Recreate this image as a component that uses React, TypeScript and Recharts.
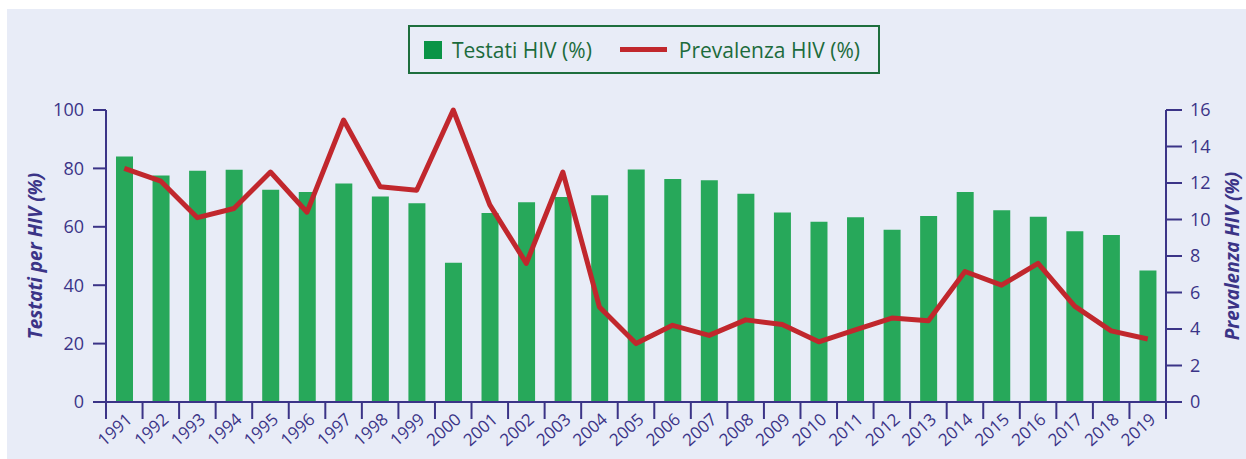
import { ComposedChart, Bar, Line, XAxis, YAxis, Legend } from 'recharts';

const years = [
  '1991', '1992', '1993', '1994', '1995', '1996', '1997', '1998', '1999', '2000',
  '2001', '2002', '2003', '2004', '2005', '2006', '2007', '2008', '2009', '2010',
  '2011', '2012', '2013', '2014', '2015', '2016', '2017', '2018', '2019',
];
const testati = [
  84.1, 77.6, 79.2, 79.5, 72.7, 71.9, 74.8, 70.4, 68.1, 47.7,
  64.7, 68.4, 70.2, 70.8, 79.6, 76.4, 75.9, 71.3, 64.9, 61.7,
  63.3, 59.0, 63.7, 71.9, 65.7, 63.4, 58.5, 57.2, 45.0,
];
const prevalenza = [
  12.8, 12.1, 10.1, 10.6, 12.6, 10.4, 15.45, 11.8, 11.6, 16.0,
  10.8, 7.6, 12.6, 5.2, 3.2, 4.2, 3.65, 4.5, 4.25, 3.3,
  3.95, 4.6, 4.45, 7.15, 6.4, 7.6, 5.25, 3.9, 3.45,
];
const leftTicks = [0, 20, 40, 60, 80, 100];
const rightTicks = [0, 2, 4, 6, 8, 10, 12, 14, 16];

const data = years.map((y, i) => ({ year: y, testati: testati[i], prevalenza: prevalenza[i] }));

const AXIS = '#3b3487';
const GREEN = '#27a85a';
const RED = '#c1272d';
const FONT = '"Open Sans", "Noto Sans", sans-serif';

const W = 1246;
const H = 459;
const PLOT_LEFT = 106;
const PLOT_RIGHT = 1166;
const band = (PLOT_RIGHT - PLOT_LEFT) / years.length;

function YearTick(props: any) {
  const { x, y, payload, index } = props;
  return (
    <g>
      {index === 0 && <line x1={x - band / 2} x2={x - band / 2} y1={y - 8} y2={y + 9} stroke={AXIS} strokeWidth={2} />}
      <line x1={x + band / 2} x2={x + band / 2} y1={y - 8} y2={y + 9} stroke={AXIS} strokeWidth={2} />
      <text
        x={x + 9}
        y={y + 11}
        transform={`rotate(-42 ${x + 9} ${y + 11})`}
        textAnchor="end"
        fill={AXIS}
        fontSize={17}
        fontFamily={FONT}
      >
        {payload.value}
      </text>
    </g>
  );
}

function LegendBox() {
  return (
    <div
      style={{
        boxSizing: 'border-box',
        width: 472,
        height: 49,
        border: '2px solid #1d6e3d',
        display: 'flex',
        alignItems: 'center',
        fontFamily: FONT,
        fontSize: 21,
        color: '#1c6b3c',
        paddingLeft: 14,
      }}
    >
      <span style={{ display: 'inline-block', width: 18, height: 18, background: '#0a9447', marginRight: 10 }} />
      <span>Testati HIV (%)</span>
      <span style={{ display: 'inline-block', width: 47, height: 5, background: RED, marginLeft: 28, marginRight: 12 }} />
      <span>Prevalenza HIV (%)</span>
    </div>
  );
}

export default function App() {
  return (
    <div style={{ position: 'absolute', left: 0, top: 0, width: W, height: H, background: '#fff' }}>
      <div style={{ position: 'absolute', left: 7, top: 9, right: 0, bottom: 0, background: '#e8ecf7' }} />
      <div style={{ position: 'absolute', left: 0, top: 0 }}>
        <ComposedChart
          width={W}
          height={H}
          data={data}
          margin={{ top: 110, right: 20, bottom: 7, left: 46 }}
          barCategoryGap={0}
        >
          <XAxis
            dataKey="year"
            xAxisId="x"
            stroke={AXIS}
            strokeWidth={2}
            tickLine={false}
            interval={0}
            height={50}
            tick={<YearTick />}
          />
          <YAxis
            yAxisId="left"
            domain={[0, 100]}
            ticks={leftTicks}
            stroke={AXIS}
            strokeWidth={2}
            tickSize={13}
            tickMargin={9}
            width={60}
            tick={{ fill: AXIS, fontSize: 18, fontFamily: FONT }}
            label={{
              value: 'Testati per HIV (%)',
              angle: -90,
              position: 'insideLeft',
              offset: -11,
              style: { fill: AXIS, fontSize: 19, fontWeight: 700, fontStyle: 'italic', fontFamily: FONT, textAnchor: 'middle' },
            }}
          />
          <YAxis
            yAxisId="right"
            orientation="right"
            domain={[0, 16]}
            ticks={rightTicks}
            stroke={AXIS}
            strokeWidth={2}
            tickSize={16}
            tickMargin={8}
            width={60}
            tick={{ fill: AXIS, fontSize: 18, fontFamily: FONT }}
            label={{
              value: 'Prevalenza HIV (%)',
              angle: -90,
              position: 'insideRight',
              offset: -6,
              style: { fill: AXIS, fontSize: 19, fontWeight: 700, fontStyle: 'italic', fontFamily: FONT, textAnchor: 'middle' },
            }}
          />
          <Legend
            verticalAlign="middle"
            align="center"
            layout="horizontal"
            content={<LegendBox />}
            wrapperStyle={{ position: 'absolute', top: 25, left: 408, width: 472 }}
          />
          <Bar
            dataKey="testati"
            xAxisId="x"
            yAxisId="left"
            fill={GREEN}
            barSize={17}
            isAnimationActive={false}
          />
          <Line
            dataKey="prevalenza"
            xAxisId="x"
            yAxisId="right"
            stroke={RED}
            strokeWidth={5}
            dot={false}
            activeDot={false}
            strokeLinejoin="round"
            isAnimationActive={false}
          />
        </ComposedChart>
      </div>
    </div>
  );
}
